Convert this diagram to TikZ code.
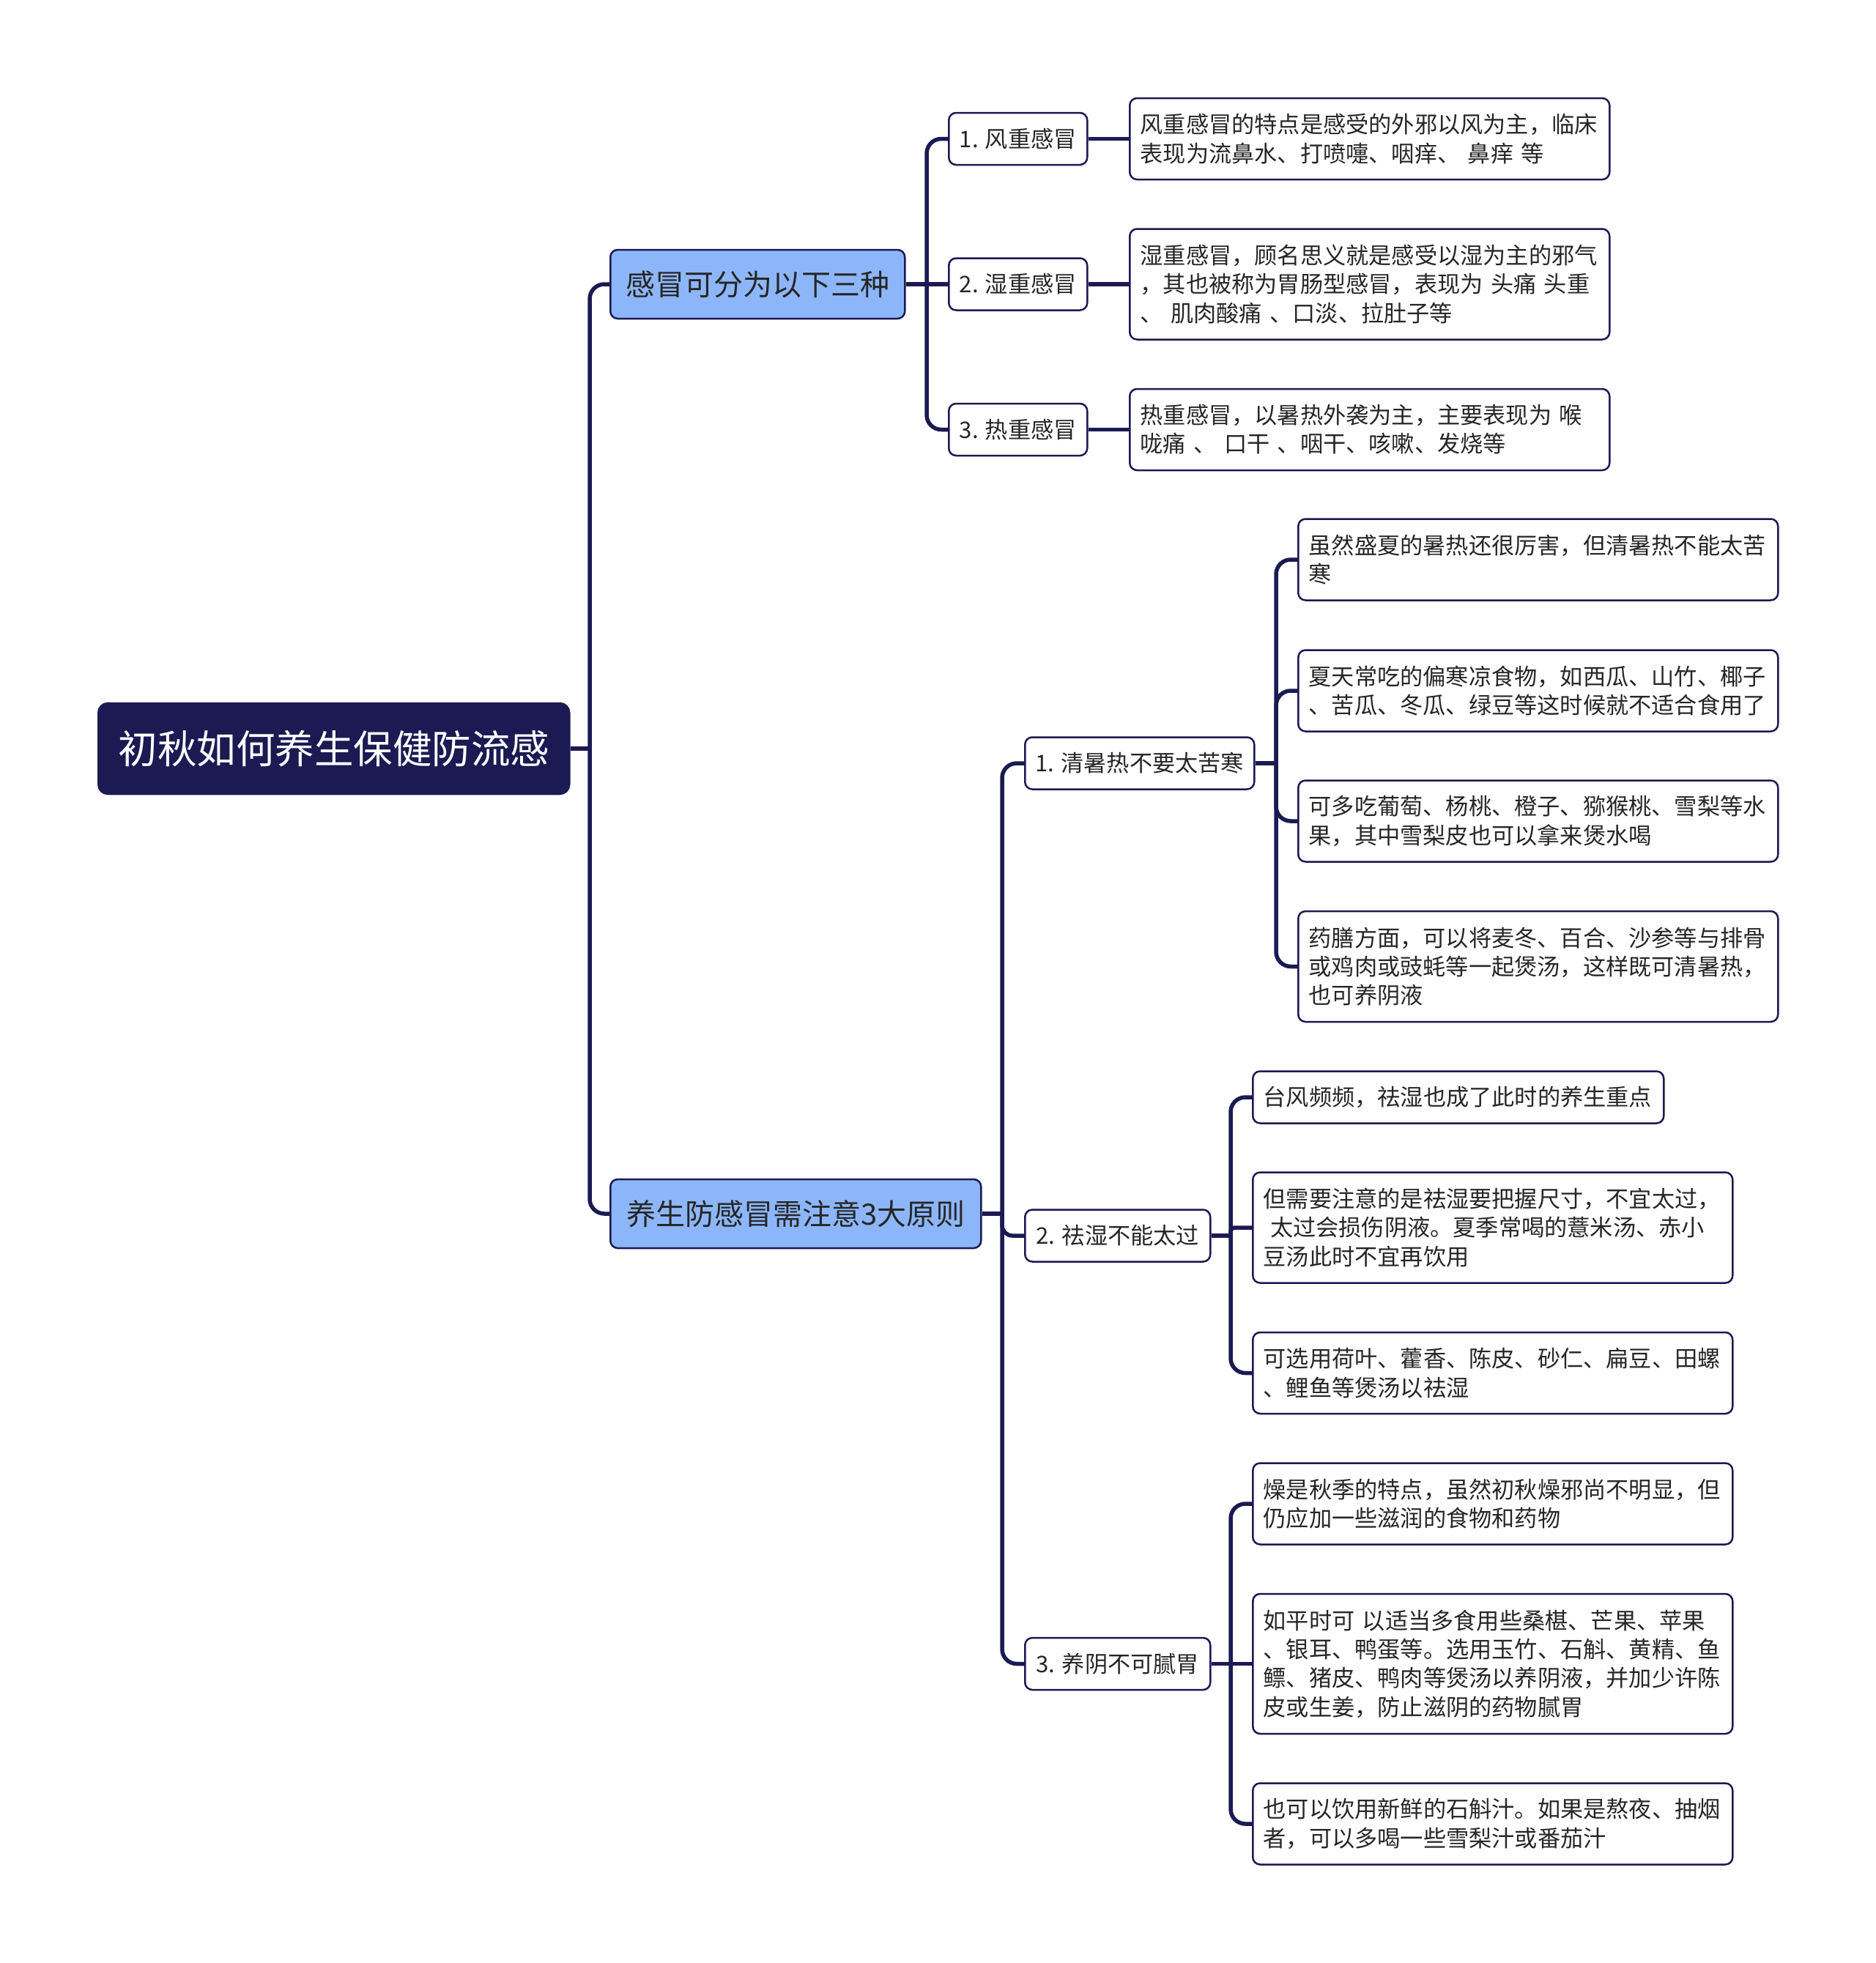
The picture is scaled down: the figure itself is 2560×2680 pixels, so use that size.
\documentclass[tikz,border=0pt]{standalone}
\usepackage{fontspec}
\setmainfont{Noto Sans CJK SC}
\definecolor{navy}{HTML}{1C1A52}
\definecolor{bluefill}{HTML}{8DB6FA}
\definecolor{txt}{HTML}{262626}
\tikzset{
  conn/.style={draw=navy, line width=5.5pt, rounded corners=20pt},
  boxbase/.style={rectangle, rounded corners=10pt, draw=navy, line width=2.5pt, anchor=west},
  rootbox/.style={boxbase, rounded corners=13pt, fill=navy, text=white, font=\fontsize{53.5}{64}\selectfont, inner sep=0pt, minimum height=124pt, minimum width=643pt},
  branchbox/.style={boxbase, fill=bluefill, text=txt, font=\fontsize{40}{48}\selectfont, inner sep=0pt, minimum height=94pt},
  childbox/.style={boxbase, fill=white, text=txt, font=\fontsize{31.2}{39.3}\selectfont, inner sep=0pt, minimum height=71pt},
  leafbox/.style={boxbase, fill=white, text=txt, font=\fontsize{31.2}{39.3}\selectfont, align=left, inner xsep=14.5pt, inner ysep=0pt, text width=626pt},
}
\begin{document}
\begin{tikzpicture}[x=1pt,y=-1pt]
\useasboundingbox (0,0) rectangle (2560,2680);
\fill[white] (0,0) rectangle (2560,2680);
% spine x positions
\coordinate (s0) at (805,0);
\coordinate (s1) at (1265,0);
\coordinate (s2) at (1368,0);
\coordinate (s21) at (1742,0);
\coordinate (s22) at (1680,0);
\coordinate (s23) at (1680,0);

\node[rootbox] (root) at (133,1022) {初秋如何养生保健防流感};

\node[branchbox, minimum width=402pt] (b1) at (832,388) {感冒可分为以下三种};
\node[branchbox, minimum width=506pt] (b2) at (832,1657) {养生防感冒需注意3大原则};

% branch 1
\node[childbox, minimum width=189pt] (c11) at (1294,189.5) {1. 风重感冒};
\node[childbox, minimum width=189pt] (c12) at (1294,388) {2. 湿重感冒};
\node[childbox, minimum width=189pt] (c13) at (1294,586.5) {3. 热重感冒};

\node[leafbox, minimum height=111pt] (l11) at (1541,189.5) {风重感冒的特点是感受的外邪以风为主，临床\\表现为流鼻水、打喷嚏、咽痒、 鼻痒 等};
\node[leafbox, minimum height=151pt] (l12) at (1541,388) {湿重感冒，顾名思义就是感受以湿为主的邪气\\，其也被称为胃肠型感冒，表现为 头痛 头重\\、 肌肉酸痛 、口淡、拉肚子等};
\node[leafbox, minimum height=111pt] (l13) at (1541,586.5) {热重感冒，以暑热外袭为主，主要表现为 喉\\咙痛 、 口干 、咽干、咳嗽、发烧等};

% branch 2
\node[childbox, minimum width=313pt] (c21) at (1398,1042) {1. 清暑热不要太苦寒};
\node[childbox, minimum width=253pt] (c22) at (1398,1687) {2. 祛湿不能太过};
\node[childbox, minimum width=253pt] (c23) at (1398,2271.5) {3. 养阴不可腻胃};

\node[leafbox, minimum height=111pt] (l211) at (1771,764) {虽然盛夏的暑热还很厉害，但清暑热不能太苦\\寒};
\node[leafbox, minimum height=111pt] (l212) at (1771,943) {夏天常吃的偏寒凉食物，如西瓜、山竹、椰子\\、苦瓜、冬瓜、绿豆等这时候就不适合食用了};
\node[leafbox, minimum height=111pt] (l213) at (1771,1121) {可多吃葡萄、杨桃、橙子、猕猴桃、雪梨等水\\果，其中雪梨皮也可以拿来煲水喝};
\node[leafbox, minimum height=151pt] (l214) at (1771,1319.5) {药膳方面，可以将麦冬、百合、沙参等与排骨\\或鸡肉或豉蚝等一起煲汤，这样既可清暑热，\\也可养阴液};

\node[leafbox, minimum height=71pt, text width=532pt] (l221) at (1709,1498) {台风频频，祛湿也成了此时的养生重点};
\node[leafbox, minimum height=151pt] (l222) at (1709,1676) {但需要注意的是祛湿要把握尺寸，不宜太过，\\\hspace*{0.3em}太过会损伤阴液。夏季常喝的薏米汤、赤小\\豆汤此时不宜再饮用};
\node[leafbox, minimum height=111pt] (l223) at (1709,1874.5) {可选用荷叶、藿香、陈皮、砂仁、扁豆、田螺\\、鲤鱼等煲汤以祛湿};

\node[leafbox, minimum height=111pt] (l231) at (1709,2053) {燥是秋季的特点，虽然初秋燥邪尚不明显，但\\仍应加一些滋润的食物和药物};
\node[leafbox, minimum height=191pt] (l232) at (1709,2271.5) {如平时可 以适当多食用些桑椹、芒果、苹果\\、银耳、鸭蛋等。选用玉竹、石斛、黄精、鱼\\鳔、猪皮、鸭肉等煲汤以养阴液，并加少许陈\\皮或生姜，防止滋阴的药物腻胃};
\node[leafbox, minimum height=111pt] (l233) at (1709,2490) {也可以饮用新鲜的石斛汁。如果是熬夜、抽烟\\者，可以多喝一些雪梨汁或番茄汁};

% connectors: root
\draw[conn] (root.east) -- (root.east -| s0);
\draw[conn] (b1.west) -| (root.east -| s0);
\draw[conn] (b2.west) -| (root.east -| s0);
% branch 1
\draw[conn] (b1.east) -- (b1.east -| s1);
\draw[conn] (c11.west) -| (b1.east -| s1);
\draw[conn] (c12.west) -- (b1.east -| s1);
\draw[conn] (c13.west) -| (b1.east -| s1);
\draw[conn] (c11.east) -- (l11.west);
\draw[conn] (c12.east) -- (l12.west);
\draw[conn] (c13.east) -- (l13.west);
% branch 2
\draw[conn] (b2.east) -- (b2.east -| s2);
\draw[conn] (c21.west) -| (b2.east -| s2);
\draw[conn, rounded corners=14pt] (c22.west) -| (b2.east -| s2);
\draw[conn] (c23.west) -| (b2.east -| s2);
% child 2.1
\draw[conn] (c21.east) -- (c21.east -| s21);
\draw[conn] (l211.west) -| (c21.east -| s21);
\draw[conn] (l212.west) -| (c21.east -| s21);
\draw[conn] (l213.west) -| (c21.east -| s21);
\draw[conn] (l214.west) -| (c21.east -| s21);
% child 2.2
\draw[conn] (c22.east) -- (c22.east -| s22);
\draw[conn] (l221.west) -| (c22.east -| s22);
\draw[conn, rounded corners=5pt] (l222.west) -| (c22.east -| s22);
\draw[conn] (l223.west) -| (c22.east -| s22);
% child 2.3
\draw[conn] (c23.east) -- (c23.east -| s23);
\draw[conn] (l231.west) -| (c23.east -| s23);
\draw[conn] (l232.west) -- (c23.east -| s23);
\draw[conn] (l233.west) -| (c23.east -| s23);
\end{tikzpicture}
\end{document}
